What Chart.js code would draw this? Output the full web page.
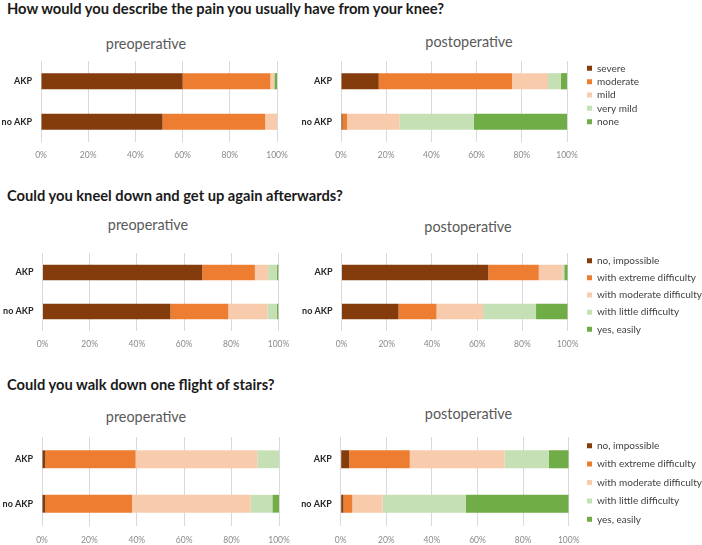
<!DOCTYPE html>
<html lang="en">
<head>
<meta charset="UTF-8">
<title>Knee questionnaire: preoperative vs postoperative</title>
<style>
  body { margin: 0; background: #fff; overflow: hidden; }
  #page { position: relative; width: 702px; height: 545px; overflow: hidden; }
  .question { position: absolute; left: 7px; font: bold 14.7px/16px Lato, sans-serif; color: #1a1a1a; white-space: nowrap; }
  .phase { position: absolute; font: 14.4px/16px Lato, sans-serif; color: #595959; white-space: nowrap; transform: translateX(-50%); }
  canvas { position: absolute; }
</style>
<script src="https://cdn.jsdelivr.net/npm/chart.js"></script>
</head>
<body>
<div id="page">
  <div class="question" style="top:-0.3px">How would you describe the pain you usually have from your knee?</div>
  <div class="question" style="top:187.3px">Could you kneel down and get up again afterwards?</div>
  <div class="question" style="top:376.3px">Could you walk down one flight of stairs?</div>

  <div class="phase" style="left:146px;top:35.6px">preoperative</div>
  <div class="phase" style="left:469px;top:33.9px">postoperative</div>
  <div class="phase" style="left:148px;top:216.6px">preoperative</div>
  <div class="phase" style="left:468px;top:218.9px">postoperative</div>
  <div class="phase" style="left:146px;top:408.9px">preoperative</div>
  <div class="phase" style="left:468.5px;top:405.6px">postoperative</div>

  <canvas id="painPre"    width="292" height="101" style="left:0px;top:61px"></canvas>
  <canvas id="painPost"   width="420" height="134" style="left:300px;top:28px"></canvas>
  <canvas id="kneelPre"   width="296" height="98"  style="left:0px;top:253px"></canvas>
  <canvas id="kneelPost"  width="420" height="112" style="left:300px;top:239px"></canvas>
  <canvas id="stairsPre"  width="292" height="109" style="left:0px;top:437px"></canvas>
  <canvas id="stairsPost" width="420" height="127" style="left:300px;top:419px"></canvas>
</div>

<script>
// --- data (percent of patients) ---
const categories = ['AKP', 'no AKP'];
const painAnswers = ['severe', 'moderate', 'mild', 'very mild', 'none'];
const abilityAnswers = ['no, impossible', 'with extreme difficulty', 'with moderate difficulty', 'with little difficulty', 'yes, easily'];
const xTicks = [0, 20, 40, 60, 80, 100];

const painPreAKP = [60, 37.2, 1.7, 0, 1.1];
const painPreNoAKP = [51.5, 43.5, 5, 0, 0];
const painPostAKP = [16.7, 59, 15.9, 5.7, 2.7];
const painPostNoAKP = [0.7, 2, 23.1, 32.9, 41.3];

const kneelPreAKP = [67.7, 22.3, 5.6, 3.7, 0.7];
const kneelPreNoAKP = [54.2, 24.5, 16.6, 4, 0.7];
const kneelPostAKP = [64.9, 22.3, 10.6, 0.7, 1.5];
const kneelPostNoAKP = [25.2, 16.8, 20.6, 23.4, 14];

const stairsPreAKP = [1.4, 38.1, 51.4, 9.1, 0];
const stairsPreNoAKP = [1.4, 36.6, 50, 9.2, 2.8];
const stairsPostAKP = [3.7, 26.6, 41.6, 19.3, 8.8];
const stairsPostNoAKP = [1.2, 3.9, 13.3, 36.4, 45.2];

const answerColors = ['#843C0C', '#ED7D31', '#F8CBAD', '#C5E0B4', '#70AD47'];

const FONT = 'Lato, sans-serif';
const LEGEND_SIZE = 10;
const LEGEND_BOX = 5;
Chart.defaults.font.family = FONT;

// width Chart.js will give a right-hand legend (padding + box + gap + text + 10)
function legendWidth(answers, pad) {
  const ctx = document.createElement('canvas').getContext('2d');
  ctx.font = LEGEND_SIZE + 'px ' + FONT;
  const widest = Math.max(...answers.map(a => ctx.measureText(a).width));
  return pad + LEGEND_BOX + LEGEND_SIZE / 2 + widest + 10;
}

// drop the label overflow padding, the canvases are laid out by hand
function noPadding(s) {
  s.paddingTop = s.paddingBottom = s.paddingLeft = s.paddingRight = 0;
}

// invisible axis used only to reserve space
function spacer(position, size) {
  return {
    type: 'linear',
    position: position,
    display: true,
    grid: { display: false },
    border: { display: false },
    ticks: { display: false },
    afterFit: s => {
      if (position === 'top') s.height = size; else s.width = size;
      noPadding(s);
    }
  };
}

function makeChart(id, answers, akp, noAkp, lay) {
  const canvas = document.getElementById(id);
  const datasets = answers.map((a, i) => ({
    label: a,
    data: [akp[i], noAkp[i]],
    backgroundColor: answerColors[i],
    borderWidth: 0,
    barPercentage: 0.4,
    categoryPercentage: 1
  }));

  const scales = {
    x: {
      stacked: true,
      min: 0,
      max: 100,
      afterBuildTicks: s => { s.ticks = xTicks.map(v => ({ value: v })); },
      grid: { color: '#d9d9d9', drawTicks: false },
      border: { display: false },
      ticks: { padding: lay.tickPad, color: '#8a8a8a', font: { size: 8.5 }, callback: v => v + '%' },
      afterFit: s => { s.height = 20; noPadding(s); }
    },
    y: {
      stacked: true,
      grid: { display: false, drawTicks: false },
      border: { display: false },
      ticks: { padding: 9, color: '#262626', font: { size: 9, weight: 'bold' } },
      afterFit: s => { s.width = lay.yW; noPadding(s); }
    }
  };

  let pr = lay.pr || 0;
  if (lay.legend) {
    scales.gapRight = spacer('right', lay.gap);
    scales.gapTop = spacer('top', lay.sTop);
    // place the plot's right edge where the figure has it
    pr = canvas.width - lay.plotRight - lay.gap - legendWidth(answers, lay.legendPad);
  }

  return new Chart(canvas, {
    type: 'bar',
    data: { labels: categories, datasets: datasets },
    options: {
      indexAxis: 'y',
      responsive: false,
      animation: false,
      layout: { autoPadding: false, padding: { left: 0, top: 0, bottom: 0, right: pr } },
      scales: scales,
      plugins: {
        title: { display: false },
        legend: {
          display: !!lay.legend,
          position: 'right',
          align: 'center',
          maxWidth: 1000,
          labels: {
            boxWidth: LEGEND_BOX,
            boxHeight: LEGEND_BOX,
            padding: lay.legendPad,
            color: '#404040',
            font: { size: LEGEND_SIZE }
          }
        },
        tooltip: { enabled: false }
      }
    }
  });
}

makeChart('painPre', painAnswers, painPreAKP, painPreNoAKP,
  { yW: 41, pr: 15, tickPad: 8 });
makeChart('painPost', painAnswers, painPostAKP, painPostNoAKP,
  { yW: 41, plotRight: 267, sTop: 33, tickPad: 8,
    legend: true, legendPad: 3.35, gap: 16.65 });

makeChart('kneelPre', abilityAnswers, kneelPreAKP, kneelPreNoAKP,
  { yW: 42.5, pr: 17.5, tickPad: 8 });
makeChart('kneelPost', abilityAnswers, kneelPostAKP, kneelPostNoAKP,
  { yW: 41.5, plotRight: 267.7, sTop: 14, tickPad: 8,
    legend: true, legendPad: 7.15, gap: 12.15 });

makeChart('stairsPre', abilityAnswers, stairsPreAKP, stairsPreNoAKP,
  { yW: 42, pr: 13, tickPad: 9 });
makeChart('stairsPost', abilityAnswers, stairsPostAKP, stairsPostNoAKP,
  { yW: 40.7, plotRight: 268.7, sTop: 18, tickPad: 9,
    legend: true, legendPad: 8.4, gap: 9.9 });
</script>
</body>
</html>
